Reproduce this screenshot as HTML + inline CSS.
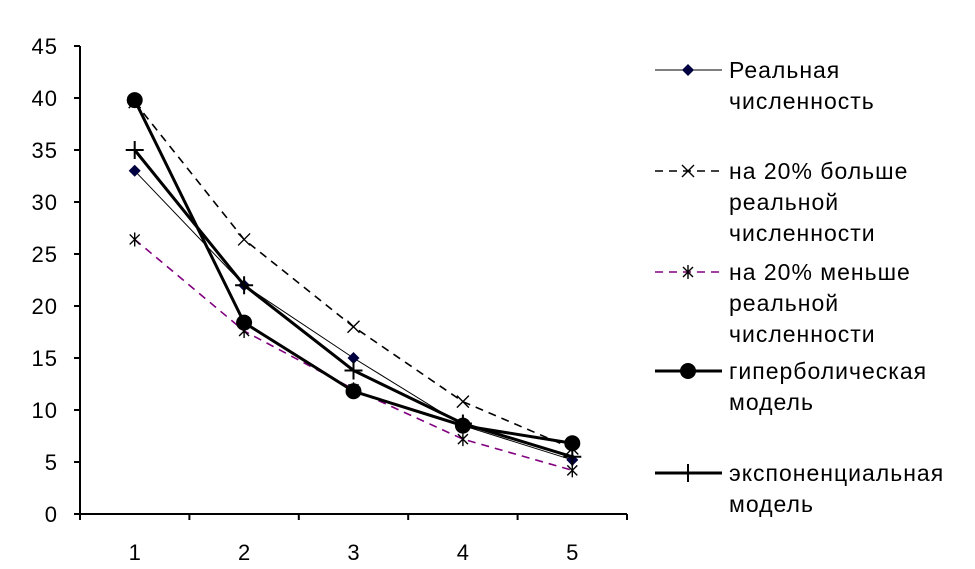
<!DOCTYPE html>
<html><head><meta charset="utf-8"><style>
body{margin:0;background:#fff;}
svg text{font-family:"Liberation Sans","DejaVu Sans",sans-serif;fill:#000;}
</style></head><body>
<svg id="c" width="975" height="564" viewBox="0 0 975 564" xmlns="http://www.w3.org/2000/svg"></svg>
<script>
const categories=["1","2","3","4","5"];
const yTicks=[0,5,10,15,20,25,30,35,40,45];
const realVals=[33,22,15,8.5,5.2];
const plus20Vals=[39.6,26.4,18,10.8,6.3];
const minus20Vals=[26.4,17.6,12,7.2,4.2];
const hyperVals=[39.8,18.4,11.8,8.5,6.8];
const expVals=[35,22,13.8,8.7,5.5];
const NS="http://www.w3.org/2000/svg";
const svg=document.getElementById('c');
const X0=80,X1=627,Y0=514,YT=46,YMAX=45;
const bw=(X1-X0)/categories.length;
function xs(i){return X0+bw*(i+0.5);}
function ys(v){return Y0-(v/YMAX)*(Y0-YT);}
function mk(t,a){const e=document.createElementNS(NS,t);for(const k in a)e.setAttribute(k,a[k]);svg.appendChild(e);return e;}
let ax=mk('line',{x1:X0,y1:YT,x2:X0,y2:Y0,stroke:'#000','stroke-width':2});


let bx=mk('line',{x1:X0,y1:Y0,x2:X1,y2:Y0,stroke:'#000','stroke-width':2});


yTicks.forEach(v=>{
 const y=ys(v);
 mk('line',{x1:X0-6,y1:y,x2:X0,y2:y,stroke:'#000','stroke-width':2});
 const t=mk('text',{x:58,y:y+8,'text-anchor':'end','font-size':22,'letter-spacing':1});t.textContent=v;
 
 
});
for(let i=0;i<=categories.length;i++){const x=X0+bw*i;mk('line',{x1:x,y1:Y0,x2:x,y2:Y0+6,stroke:'#000','stroke-width':2});}
categories.forEach((c,i)=>{const t=mk('text',{x:xs(i),y:560,'text-anchor':'middle','font-size':22});t.textContent=c;
 
 });
function marker(type,x,y,color){
 if(type==='diamond')mk('path',{d:`M${x} ${y-6}L${x+6} ${y}L${x} ${y+6}L${x-6} ${y}Z`,fill:color});
 else if(type==='x'){mk('path',{d:`M${x-6} ${y-6}L${x+6} ${y+6}M${x-6} ${y+6}L${x+6} ${y-6}`,stroke:color,'stroke-width':1.4,fill:'none'});}
 else if(type==='star'){mk('path',{d:`M${x-5} ${y-5}L${x+5} ${y+5}M${x-5} ${y+5}L${x+5} ${y-5}M${x} ${y-7}L${x} ${y+7}`,stroke:color,'stroke-width':1.4,fill:'none'});}
 else if(type==='dot')mk('circle',{cx:x,cy:y,r:8,fill:'#000'});
 else if(type==='plus')mk('path',{d:`M${x-9} ${y}L${x+9} ${y}M${x} ${y-9}L${x} ${y+9}`,stroke:color,'stroke-width':2,fill:'none'});
}
const series=[
 {name:'series-plus20',vals:plus20Vals,stroke:'#000',w:1.6,dash:'8 6',m:'x'},
 {name:'series-minus20',vals:minus20Vals,stroke:'#800080',w:1.6,dash:'8 6',m:'star'},
 {name:'series-real',vals:realVals,stroke:'#000',w:1,dash:'',m:'diamond',mc:'#000040'},
 {name:'series-hyperbolic',vals:hyperVals,stroke:'#000',w:3,dash:'',m:'dot'},
 {name:'series-exponential',vals:expVals,stroke:'#000',w:3,dash:'',m:'plus'}
];
series.forEach(s=>{
 const d=s.vals.map((v,i)=>(i?'L':'M')+xs(i)+' '+ys(v)).join('');
 const p=mk('path',{d,fill:'none',stroke:s.stroke,'stroke-width':s.w,'stroke-dasharray':s.dash});
 
 
 s.vals.forEach((v,i)=>marker(s.m,xs(i),ys(v),s.m==='star'?'#000':(s.mc||s.stroke)));
});
const legend=[
 {y:70,lines:['Реальная','численность'],stroke:'#000',w:1,dash:'',m:'diamond',mc:'#000040'},
 {y:171,lines:['на 20% больше','реальной','численности'],stroke:'#000',w:1.6,dash:'8 6',m:'x'},
 {y:272,lines:['на 20% меньше','реальной','численности'],stroke:'#800080',w:1.6,dash:'8 6',m:'star',mc:'#000'},
 {y:371,lines:['гиперболическая','модель'],stroke:'#000',w:3,dash:'',m:'dot'},
 {y:473,lines:['экспоненциальная','модель'],stroke:'#000',w:3,dash:'',m:'plus'}
];
legend.forEach((l,k)=>{
 mk('line',{x1:655,y1:l.y,x2:722,y2:l.y,stroke:l.stroke,'stroke-width':l.w,'stroke-dasharray':l.dash});
 marker(l.m,688,l.y,l.mc||l.stroke);
 l.lines.forEach((s,j)=>{const t=mk('text',{x:729,y:l.y+8+j*31,'font-size':23,'letter-spacing':1});t.textContent=s;
  
  });
});
</script>
</body></html>
